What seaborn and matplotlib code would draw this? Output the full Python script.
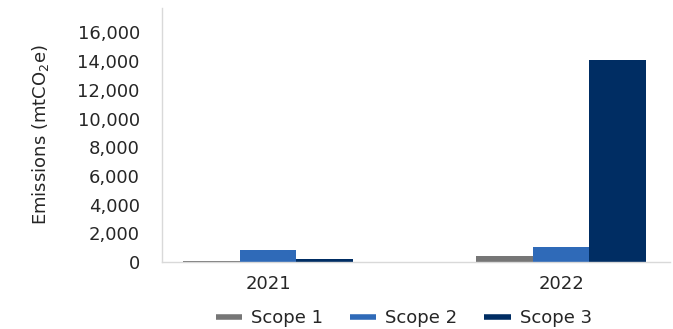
import pandas as pd
import seaborn as sns
import matplotlib.pyplot as plt
from matplotlib.lines import Line2D
from matplotlib.ticker import FuncFormatter

# Data
years = ["2021", "2022"]
scopes = ["Scope 1", "Scope 2", "Scope 3"]
scope1 = [60, 390]
scope2 = [840, 1030]
scope3 = [180, 14050]
colors = ["#767676", "#2F6AB8", "#002D63"]

yticks = [0, 2000, 4000, 6000, 8000, 10000, 12000, 14000, 16000]


def build_frame():
    """Long-format table for seaborn."""
    rows = []
    for name, vals in zip(scopes, [scope1, scope2, scope3]):
        for yr, v in zip(years, vals):
            rows.append({"year": yr, "scope": name, "value": v})
    return pd.DataFrame(rows)


def plot_emissions(data):
    sns.set_style("white")
    plt.rcParams["font.family"] = ["DejaVu Sans"]

    fig = plt.figure(figsize=(6.73, 3.29), dpi=100)
    ax = fig.add_axes([0.2407, 0.2036, 0.755, 0.7721])

    sns.barplot(data=data, x="year", y="value", hue="scope", order=years,
                hue_order=scopes, palette=colors, width=0.58, gap=0,
                saturation=1, legend=False, linewidth=0, ax=ax)

    ax.set_ylim(0, 17700)
    ax.set_xlim(-0.362, 1.372)
    ax.set_yticks(yticks)
    ax.yaxis.set_major_formatter(FuncFormatter(lambda v, p: f"{int(v):,}"))
    ax.tick_params(axis="y", length=0, pad=16, labelsize=13, colors="#262626")
    ax.tick_params(axis="x", length=0, pad=9, labelsize=13, colors="#262626")
    ax.set_xlabel("")
    ax.set_ylabel("Emissions (mtCO$_2$e)", fontsize=13, color="#262626",
                  labelpad=19)

    for side in ["top", "right"]:
        ax.spines[side].set_visible(False)
    for side in ["left", "bottom"]:
        ax.spines[side].set_color("#D9D9D9")
        ax.spines[side].set_linewidth(1)

    # legend with short line handles, like the original
    handles = [Line2D([0], [0], color=c, lw=4, solid_capstyle="butt")
               for c in colors]
    fig.legend(handles, scopes, loc="center", bbox_to_anchor=(0.6, 0.033),
               ncol=3, frameon=False, fontsize=13, handlelength=1.45,
               handletextpad=0.5, columnspacing=1.5, labelcolor="#262626")

    fig.savefig("out.png", dpi=100)


if __name__ == "__main__":
    plot_emissions(build_frame())
